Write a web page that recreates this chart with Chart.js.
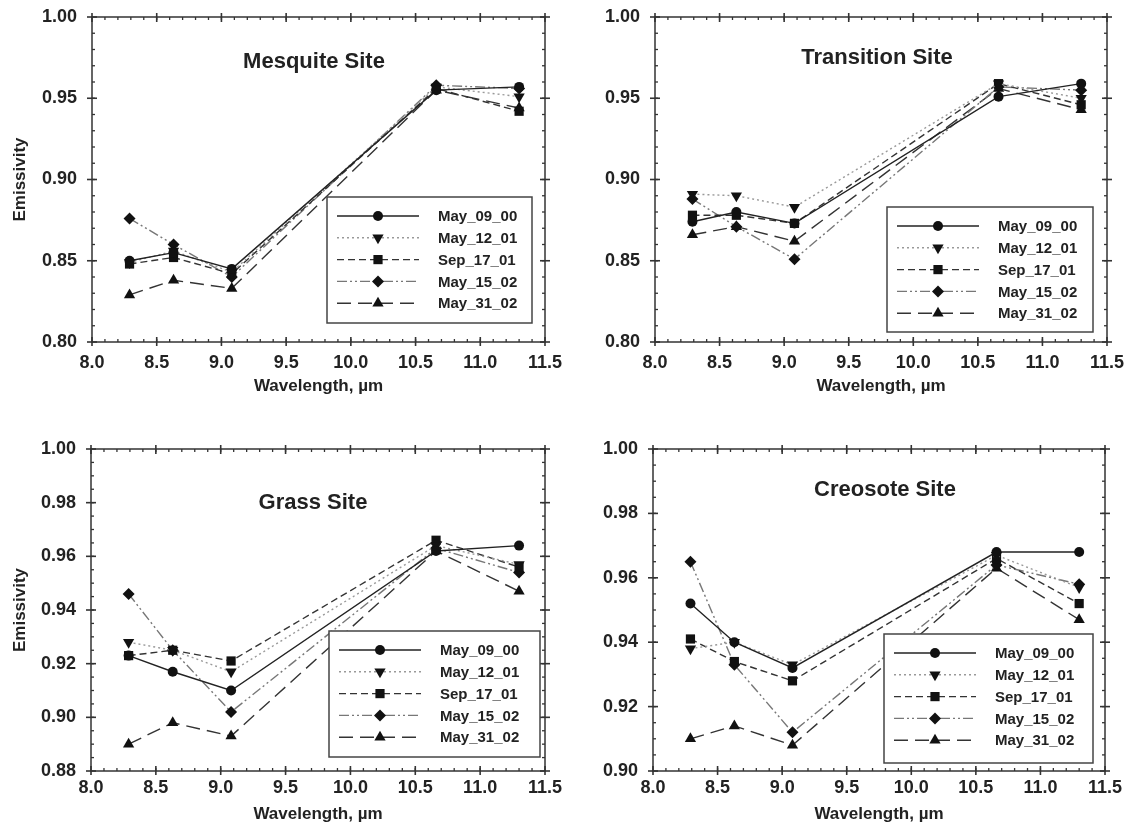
<!DOCTYPE html>
<html>
<head>
<meta charset="utf-8">
<script src="https://cdn.jsdelivr.net/npm/chart.js@4.4.0/dist/chart.umd.min.js"></script>
<style>
  html, body { margin: 0; padding: 0; background: #fff; }
  #wrap { position: relative; width: 1134px; height: 827px; }
  .panel { position: absolute; }
</style>
</head>
<body>
<div id="wrap">
  <div class="panel" style="left:0;top:0;width:567px;height:413px"><canvas id="c1"></canvas></div>
  <div class="panel" style="left:567px;top:0;width:567px;height:413px"><canvas id="c2"></canvas></div>
  <div class="panel" style="left:0;top:413px;width:567px;height:414px"><canvas id="c3"></canvas></div>
  <div class="panel" style="left:567px;top:413px;width:567px;height:414px"><canvas id="c4"></canvas></div>
</div>
<script>
// emissivity by ASTER band wavelength, four sites, five dates

const wavelengths = [8.29, 8.63, 9.08, 10.66, 11.30];
const dates = ['May_09_00', 'May_12_01', 'Sep_17_01', 'May_15_02', 'May_31_02'];
const xTicks = [8.0, 8.5, 9.0, 9.5, 10.0, 10.5, 11.0, 11.5];
const yTicksUpper = [0.80, 0.85, 0.90, 0.95, 1.00];
const yTicksGrass = [0.88, 0.90, 0.92, 0.94, 0.96, 0.98, 1.00];
const yTicksCreosote = [0.90, 0.92, 0.94, 0.96, 0.98, 1.00];

// one row per date, same order as `dates`
const mesquite = [
  [0.850, 0.855, 0.845, 0.955, 0.957],
  [0.849, 0.856, 0.843, 0.957, 0.951],
  [0.848, 0.852, 0.842, 0.956, 0.942],
  [0.876, 0.860, 0.840, 0.958, 0.956],
  [0.829, 0.838, 0.833, 0.955, 0.944],
];
const transition = [
  [0.874, 0.880, 0.873, 0.951, 0.959],
  [0.891, 0.890, 0.883, 0.959, 0.950],
  [0.878, 0.878, 0.873, 0.959, 0.946],
  [0.888, 0.871, 0.851, 0.957, 0.955],
  [0.866, 0.871, 0.862, 0.956, 0.943],
];
const grass = [
  [0.923, 0.917, 0.910, 0.962, 0.964],
  [0.928, 0.925, 0.917, 0.964, 0.957],
  [0.923, 0.925, 0.921, 0.966, 0.956],
  [0.946, 0.925, 0.902, 0.963, 0.954],
  [0.890, 0.898, 0.893, 0.962, 0.947],
];
const creosote = [
  [0.952, 0.940, 0.932, 0.968, 0.968],
  [0.938, 0.940, 0.933, 0.967, 0.957],
  [0.941, 0.934, 0.928, 0.966, 0.952],
  [0.965, 0.933, 0.912, 0.964, 0.958],
  [0.910, 0.914, 0.908, 0.963, 0.947],
];

const FONT = '"Liberation Sans", Arial, sans-serif';
const ink = '#222';

const styles = [
  { shape: 'circle',   rot: 0,   r: 5,   dash: [],                  color: '#222' },
  { shape: 'triangle', rot: 180, r: 6.5, dash: [2, 3],              color: '#999' },
  { shape: 'rect',     rot: 0,   r: 6.5, dash: [7, 4],              color: '#333' },
  { shape: 'rectRot',  rot: 0,   r: 6,   dash: [10, 3, 2, 3, 2, 3], color: '#777' },
  { shape: 'triangle', rot: 0,   r: 6.5, dash: [14, 7],             color: '#333' },
];

function marker(ctx, s, x, y){
  const r = s.r;
  ctx.beginPath();
  if(s.shape === 'circle'){
    ctx.arc(x, y, r, 0, Math.PI * 2);
  } else if(s.shape === 'rect'){
    const h = r * Math.SQRT1_2;
    ctx.rect(x - h, y - h, 2 * h, 2 * h);
  } else if(s.shape === 'rectRot'){
    ctx.moveTo(x, y - r); ctx.lineTo(x + r, y); ctx.lineTo(x, y + r); ctx.lineTo(x - r, y);
    ctx.closePath();
  } else {
    const d = s.rot ? -1 : 1;
    ctx.moveTo(x, y - d * r);
    ctx.lineTo(x + r * 0.866, y + d * r / 2);
    ctx.lineTo(x - r * 0.866, y + d * r / 2);
    ctx.closePath();
  }
  ctx.fillStyle = '#111';
  ctx.fill();
}

// frame, ticks on all four sides, title and legend box
const decor = {
  id: 'decor',
  afterDraw(chart, args, o){
    const { ctx, chartArea: a, scales: { x, y } } = chart;
    ctx.save();
    ctx.strokeStyle = '#333';
    ctx.lineWidth = 1.5;
    ctx.setLineDash([]);
    ctx.strokeRect(a.left, a.top, a.right - a.left, a.bottom - a.top);

    const seg = (x1, y1, x2, y2) => { ctx.beginPath(); ctx.moveTo(x1, y1); ctx.lineTo(x2, y2); ctx.stroke(); };
    ctx.lineWidth = 1.6;
    for(const t of x.ticks){
      const px = x.getPixelForValue(t.value);
      seg(px, a.bottom - 5, px, a.bottom + 4);
      seg(px, a.top - 4, px, a.top + 5);
    }
    for(const t of y.ticks){
      const py = y.getPixelForValue(t.value);
      seg(a.left - 5, py, a.left + 5, py);
      seg(a.right - 5, py, a.right + 5, py);
    }
    ctx.lineWidth = 1.3;
    for(let v = x.min + o.xMinor; v < x.max - 1e-6; v += o.xMinor){
      const px = x.getPixelForValue(v);
      seg(px, a.bottom - 3, px, a.bottom);
      seg(px, a.top, px, a.top + 3);
    }
    for(let v = y.min + o.yMinor; v < y.max - 1e-6; v += o.yMinor){
      const py = y.getPixelForValue(v);
      seg(a.left, py, a.left + 3, py);
      seg(a.right - 3, py, a.right, py);
    }

    // title
    ctx.fillStyle = ink;
    ctx.font = 'bold 22px ' + FONT;
    ctx.textAlign = 'center';
    ctx.textBaseline = 'middle';
    ctx.fillText(o.title, a.left + o.titleAt[0], a.top + o.titleAt[1]);

    // legend
    const [lx, ly, lw, lh] = o.legend;
    const bx = a.left + lx, by = a.top + ly;
    ctx.fillStyle = '#fff';
    ctx.fillRect(bx, by, lw, lh);
    ctx.strokeStyle = '#444';
    ctx.lineWidth = 1.5;
    ctx.strokeRect(bx, by, lw, lh);
    ctx.font = 'bold 15px ' + FONT;
    ctx.textAlign = 'left';
    chart.data.datasets.forEach((ds, i) => {
      const s = styles[i];
      const ry = by + 19 + i * 21.8;
      ctx.strokeStyle = s.color;
      ctx.lineWidth = 1.4;
      ctx.setLineDash(s.dash);
      seg(bx + 10, ry, bx + 92, ry);
      ctx.setLineDash([]);
      marker(ctx, s, bx + 51, ry);
      ctx.fillStyle = ink;
      ctx.fillText(ds.label, bx + 111, ry + 1);
    });
    ctx.restore();
  }
};

function panel(id, site, values, yTicks, p){
  const datasets = values.map((row, i) => ({
    label: dates[i],
    data: wavelengths.map((w, k) => ({ x: w, y: row[k] })),
    borderColor: styles[i].color,
    borderDash: styles[i].dash,
    borderWidth: 1.4,
    pointStyle: styles[i].shape,
    pointRotation: styles[i].rot,
    pointRadius: styles[i].r,
    pointBackgroundColor: '#111',
    pointBorderColor: '#111',
    pointBorderWidth: 0,
    tension: 0,
    fill: false,
  }));

  new Chart(document.getElementById(id), {
    type: 'line',
    data: { datasets },
    plugins: [decor],
    options: {
      responsive: true,
      maintainAspectRatio: false,
      animation: false,
      devicePixelRatio: 1,
      layout: { autoPadding: false, padding: { left: 0, top: p.top, right: p.right, bottom: 0 } },
      plugins: {
        legend: { display: false },
        tooltip: { enabled: false },
        decor: { title: site, titleAt: p.titleAt, legend: p.legend, xMinor: 0.1, yMinor: p.yMinor },
      },
      scales: {
        x: {
          type: 'linear',
          min: xTicks[0], max: xTicks[xTicks.length - 1],
          afterBuildTicks: s => { s.ticks = xTicks.map(v => ({ value: v })); },
          afterFit: s => { s.height = p.xh; s.paddingLeft = 0; s.paddingRight = 0; },
          grid: { display: false, drawTicks: false },
          border: { display: false },
          ticks: { color: ink, padding: p.xPad, font: { family: FONT, size: 18, weight: 'bold' }, callback: v => v.toFixed(1) },
          title: { display: true, text: 'Wavelength, \u00b5m', color: ink, font: { family: FONT, size: 17, weight: 'bold' }, padding: { top: 0, bottom: p.xTitlePad } },
        },
        y: {
          min: yTicks[0], max: yTicks[yTicks.length - 1],
          afterBuildTicks: s => { s.ticks = yTicks.map(v => ({ value: v })); },
          afterFit: s => { s.width = p.yw; s.paddingTop = 0; s.paddingBottom = 0; },
          grid: { display: false, drawTicks: false },
          border: { display: false },
          ticks: { color: ink, padding: 15, font: { family: FONT, size: 18, weight: 'bold' }, callback: v => v.toFixed(2) },
          title: { display: p.yTitle, text: 'Emissivity', color: ink, font: { family: FONT, size: 17, weight: 'bold' }, padding: { top: 10, bottom: 0 } },
        },
      },
    },
  });
}

panel('c1', 'Mesquite Site', mesquite, yTicksUpper,
  { top: 17, right: 22, yw: 92, xh: 71, xPad: 10, xTitlePad: 16, yTitle: true, yMinor: 0.01,
    titleAt: [222, 45], legend: [235, 180, 205, 126] });
panel('c2', 'Transition Site', transition, yTicksUpper,
  { top: 17, right: 27, yw: 88, xh: 71, xPad: 10, xTitlePad: 16, yTitle: false, yMinor: 0.01,
    titleAt: [222, 41], legend: [232, 190, 206, 125] });
panel('c3', 'Grass Site', grass, yTicksGrass,
  { top: 36, right: 22, yw: 91, xh: 56, xPad: 6, xTitlePad: 2, yTitle: true, yMinor: 0.005,
    titleAt: [222, 54], legend: [238, 182, 211, 126] });
panel('c4', 'Creosote Site', creosote, yTicksCreosote,
  { top: 36, right: 29, yw: 86, xh: 56, xPad: 6, xTitlePad: 2, yTitle: false, yMinor: 0.005,
    titleAt: [232, 41], legend: [231, 185, 209, 129] });
</script>
</body>
</html>
